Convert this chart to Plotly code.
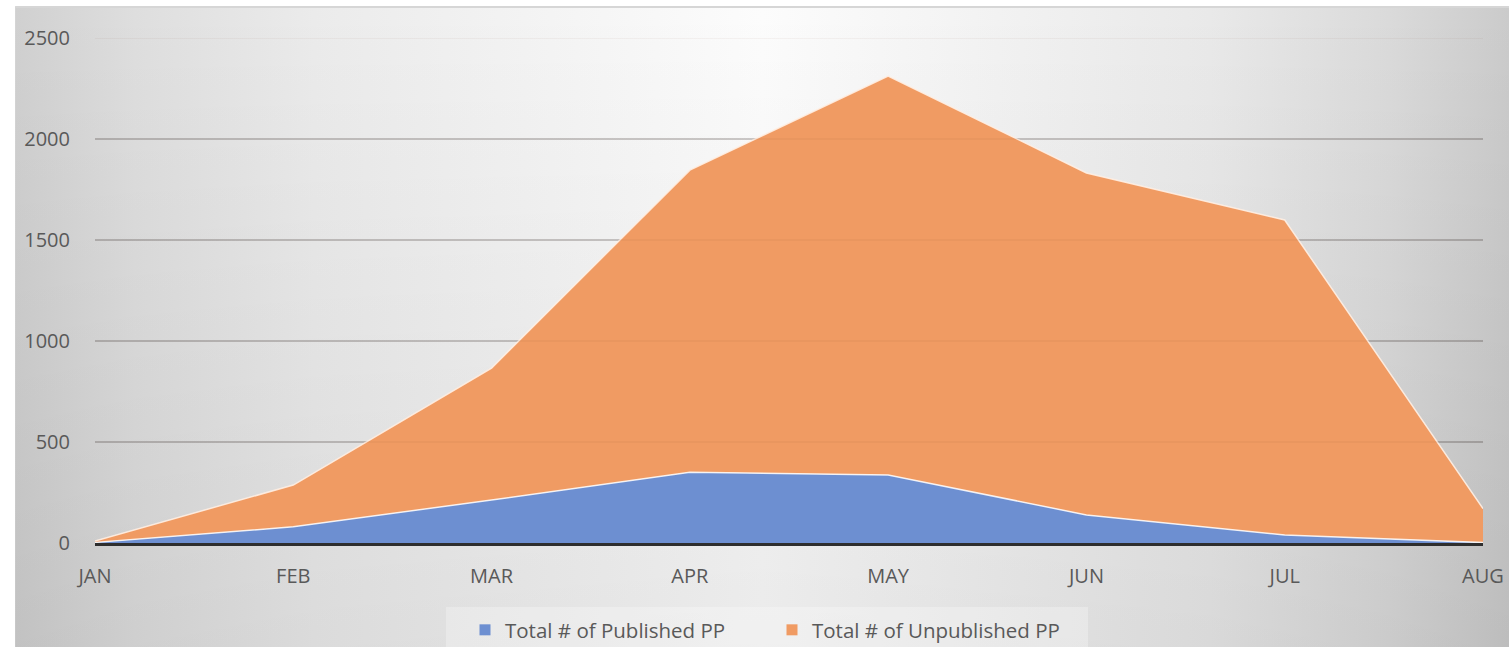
import plotly.graph_objects as go

# ---- data ----
months = ["JAN", "FEB", "MAR", "APR", "MAY", "JUN", "JUL", "AUG"]
published = [3, 80, 213, 350, 337, 139, 40, 2]
unpublished = [7, 207, 653, 1496, 1975, 1693, 1559, 168]
y_ticks = [0, 500, 1000, 1500, 2000, 2500]
series_names = ["Total # of Published PP", "Total # of Unpublished PP"]

W, H = 1509, 647
TXT = "#595959"
FONT = "Open Sans, Noto Sans, sans-serif"
BLUE = "#6d8fd1"
ORANGE = "#f09b63"

fig = go.Figure()

# background panel: horizontal grey gradient + darkening toward the bottom
bx = [0.01, 1, 1, 0.01, 0.01]
by = [0, 0, 0.989, 0.989, 0]
fig.add_trace(go.Scatter(
    x=bx, y=by, mode="lines", line=dict(width=0), fill="toself",
    fillgradient=dict(type="horizontal", colorscale=[
        [0, "#d0d0d0"], [0.08, "#dedede"], [0.2, "#ebebeb"], [0.5, "#fcfcfc"],
        [0.8, "#e9e9e9"], [0.92, "#dadada"], [1, "#cbcbcb"]]),
    showlegend=False, hoverinfo="skip", xaxis="x", yaxis="y",
))
fig.add_trace(go.Scatter(
    x=bx, y=by, mode="lines", line=dict(width=0), fill="toself",
    fillgradient=dict(type="vertical", colorscale=[
        [0, "rgba(0,0,0,0.07)"], [1, "rgba(0,0,0,0)"]]),
    showlegend=False, hoverinfo="skip", xaxis="x", yaxis="y",
))

x_idx = list(range(len(months)))
fig.add_trace(go.Scatter(
    x=x_idx, y=published, name=series_names[0], showlegend=False,
    stackgroup="one", mode="lines",
    line=dict(color="rgba(255,255,255,0.85)", width=1.5),
    fillcolor=BLUE, xaxis="x2", yaxis="y2", hoverinfo="skip",
))
fig.add_trace(go.Scatter(
    x=x_idx, y=unpublished, name=series_names[1], showlegend=False,
    stackgroup="one", mode="lines",
    line=dict(color="rgba(255,240,228,0.9)", width=1.5),
    fillcolor=ORANGE, xaxis="x2", yaxis="y2", hoverinfo="skip",
))

# legend entries with square swatches
for nm, col in zip(series_names, [BLUE, ORANGE]):
    fig.add_trace(go.Scatter(
        x=[None], y=[None], mode="markers", name=nm,
        marker=dict(symbol="square", size=11, color=col),
        xaxis="x2", yaxis="y2", hoverinfo="skip",
    ))

# faint gridlines visible through the areas
for v in y_ticks[1:]:
    fig.add_shape(type="line", xref="x2 domain", yref="y2", x0=0, x1=1, y0=v, y1=v,
                  line=dict(color="rgba(120,70,40,0.07)", width=1.5), layer="above")

# top edge of the chart frame
fig.add_shape(type="line", xref="paper", yref="paper", x0=0.01, x1=1, y0=0.989, y1=0.989,
              line=dict(color="#d6d6d6", width=2), layer="above")
# lighter legend box
fig.add_shape(type="rect", xref="paper", yref="paper",
              x0=446 / W, x1=1088 / W, y0=0, y1=(H - 607) / H,
              line=dict(width=0), fillcolor="rgba(255,255,255,0.28)", layer="above")

fig.update_layout(
    width=W, height=H,
    margin=dict(l=0, r=0, t=0, b=0, autoexpand=False),
    paper_bgcolor="white",
    plot_bgcolor="rgba(0,0,0,0)",
    hovermode=False,
    xaxis=dict(domain=[0, 1], range=[0, 1], visible=False, fixedrange=True),
    yaxis=dict(domain=[0, 1], range=[0, 1], visible=False, fixedrange=True),
    xaxis2=dict(
        domain=[95 / W, 1483 / W], anchor="y2", range=[0, len(months) - 1],
        tickvals=x_idx, ticktext=months, showgrid=False, zeroline=False,
        showline=True, linecolor="#2e2e2e", linewidth=3, ticks="",
        tickfont=dict(family=FONT, size=20, color=TXT), ticklabelstandoff=13,
        automargin=False,
    ),
    yaxis2=dict(
        domain=[(H - 543) / H, (H - 38) / H], anchor="x2", range=[0, 2500],
        tickvals=y_ticks, showgrid=True, gridcolor="rgba(0,0,0,0.17)", gridwidth=1.5,
        zeroline=False, showline=False, ticks="",
        tickfont=dict(family=FONT, size=20, color=TXT), ticklabelstandoff=24,
        automargin=False,
    ),
    legend=dict(
        orientation="h", x=465 / W, xanchor="left", y=(H - 630) / H, yanchor="middle",
        bgcolor="rgba(0,0,0,0)", font=dict(family=FONT, size=20.5, color=TXT),
        itemwidth=30, traceorder="normal", entrywidth=262, entrywidthmode="pixels",
    ),
)

fig.write_html("out.html", config={"displayModeBar": False},
               post_script="document.body.style.margin='0px';document.body.style.padding='0px';")
